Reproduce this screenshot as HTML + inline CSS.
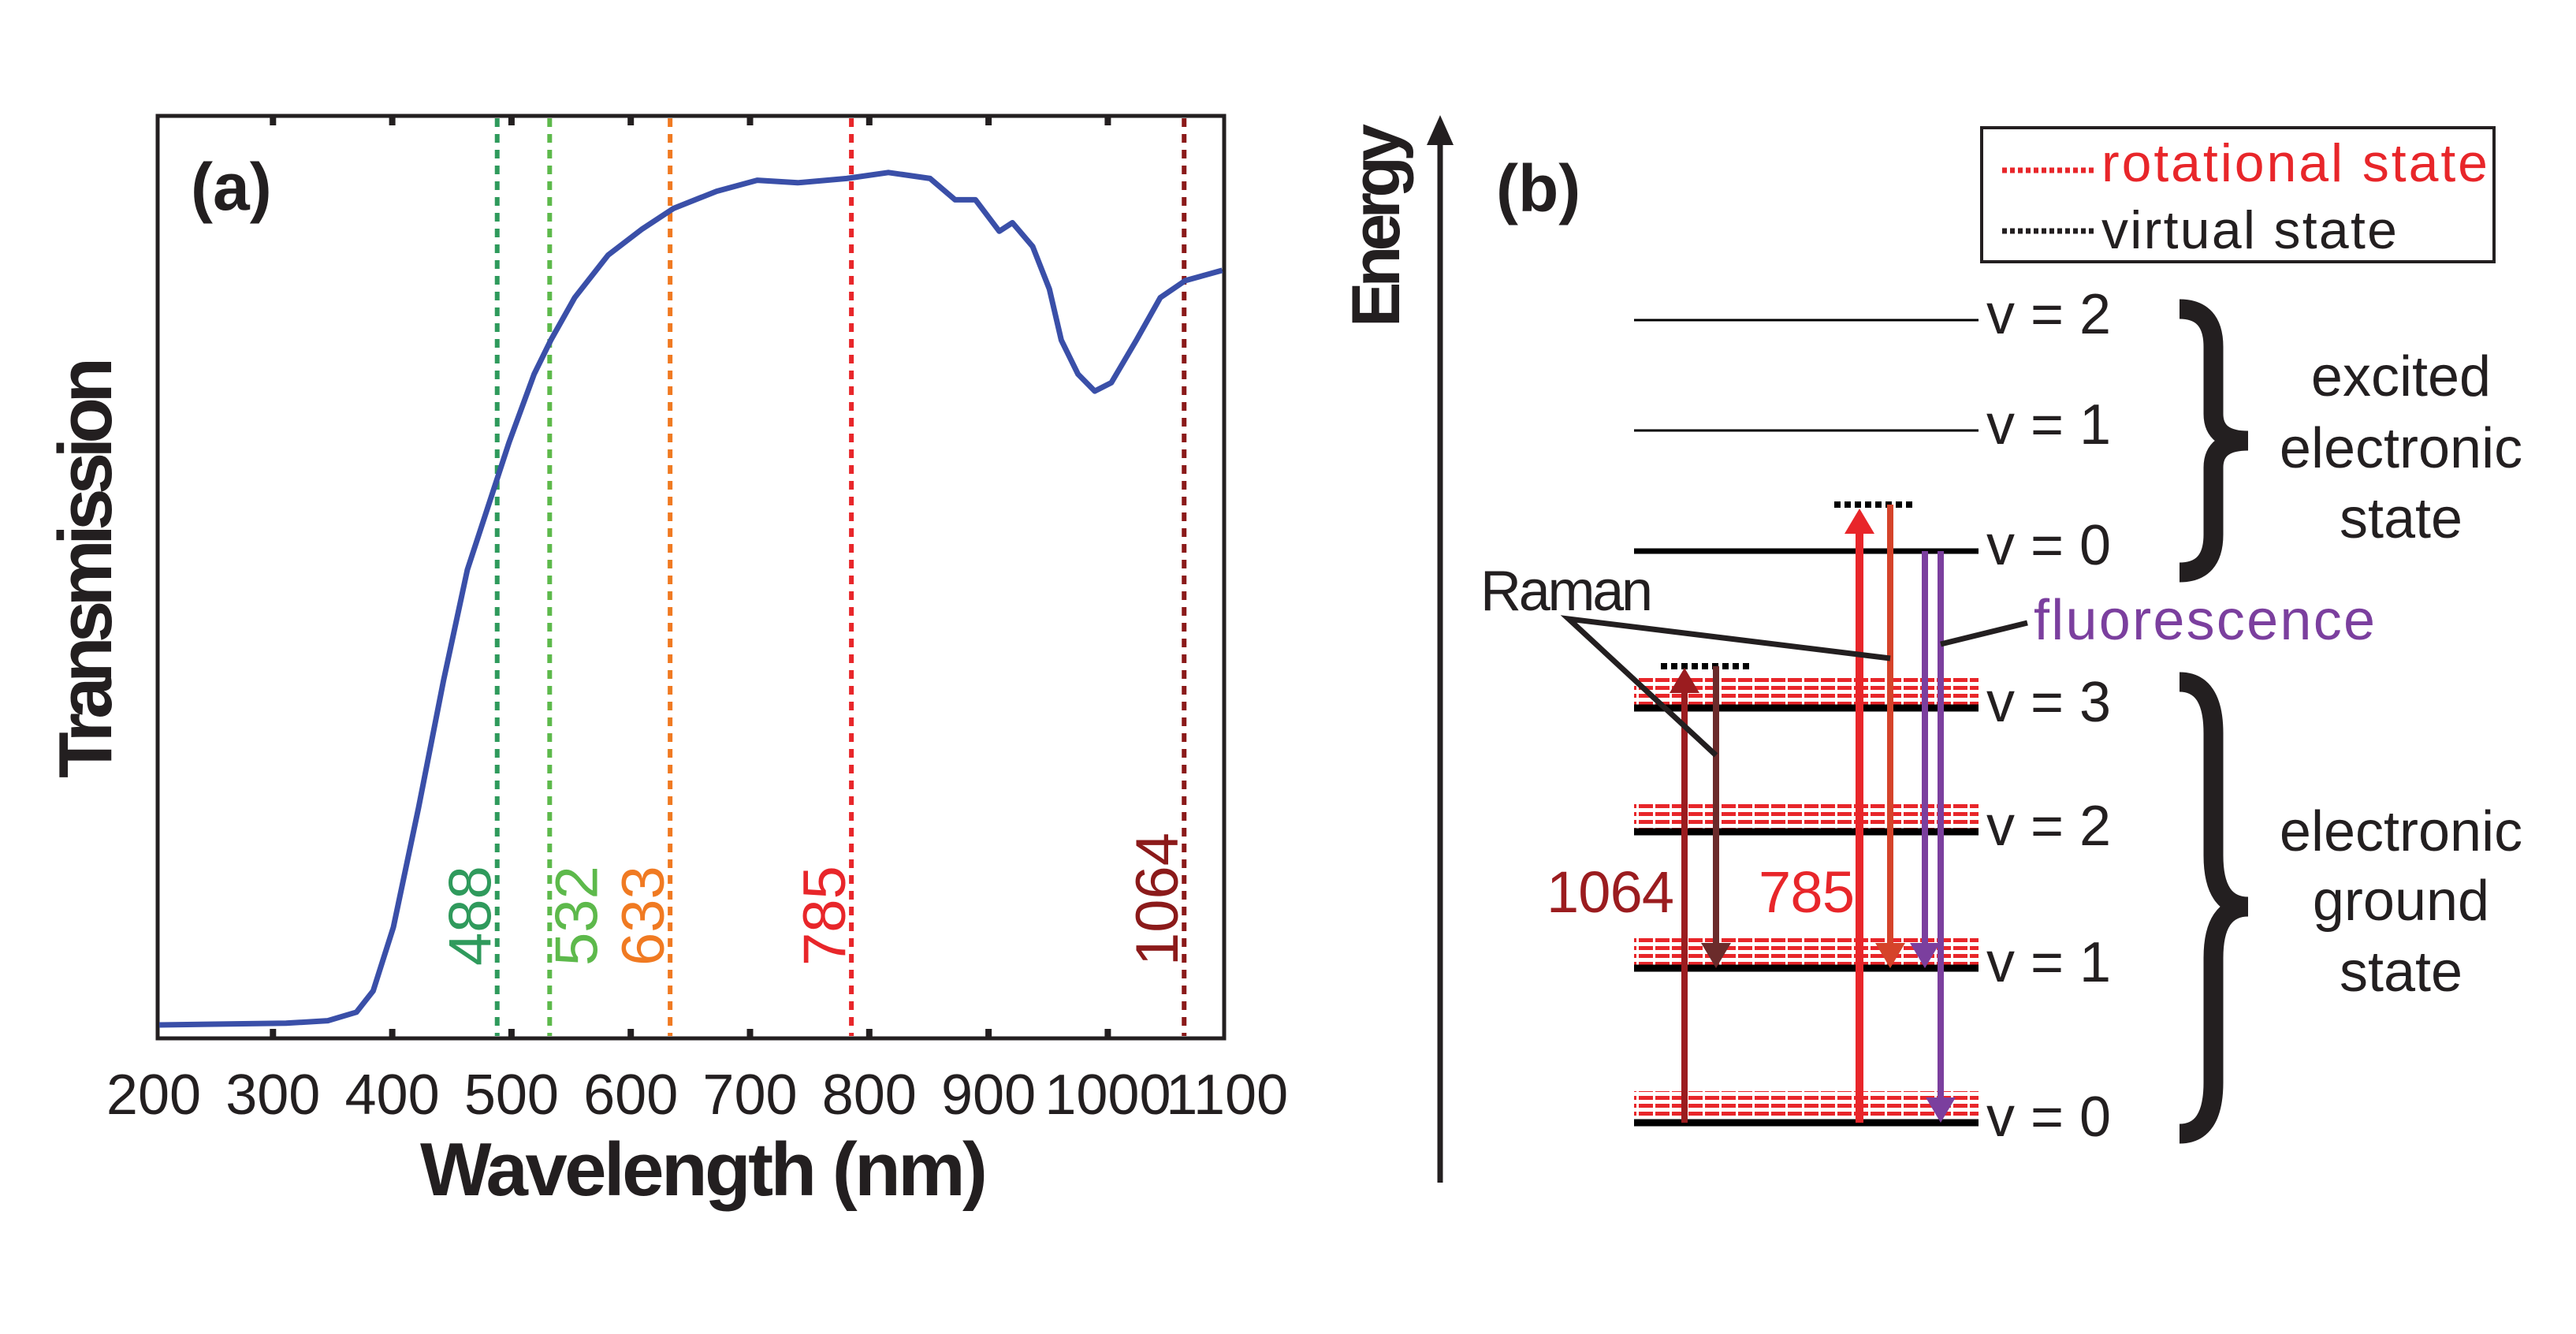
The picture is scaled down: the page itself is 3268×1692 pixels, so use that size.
<!DOCTYPE html>
<html><head><meta charset="utf-8"><style>
html,body{margin:0;padding:0;background:#fff}
svg{display:block}
text{font-family:"Liberation Sans",sans-serif;fill:#231f20}
</style></head><body>
<svg id="fig" width="3268" height="1692" viewBox="0 0 3268 1692" xmlns="http://www.w3.org/2000/svg">
<defs>
<pattern id="rot" patternUnits="userSpaceOnUse" width="21" height="10">
<rect x="0" y="0" width="18" height="5" fill="#e8262a"/>
</pattern>
</defs>
<g id="panelA">
<rect x="200" y="147" width="1353" height="1170" fill="none" stroke="#231f20" stroke-width="5"/>
<g id="ticks"></g>
<g id="laserLines"></g>
<path id="curve" fill="none" stroke="#3a4fa8" stroke-width="7" stroke-linejoin="round"/>
<text x="242" y="266" font-size="84" font-weight="bold">(a)</text>
<text transform="translate(141,720) rotate(-90)" text-anchor="middle" font-size="96" font-weight="bold" textLength="534">Transmission</text>
<text x="893" y="1516" text-anchor="middle" font-size="96" font-weight="bold" textLength="720">Wavelength (nm)</text>
</g>
<g id="panelB">
<line x1="1827" y1="1500" x2="1827" y2="180" stroke="#231f20" stroke-width="7"/>
<polygon points="1827,146 1810,184 1844,184" fill="#231f20"/>
<text transform="translate(1775,286) rotate(-90)" text-anchor="middle" font-size="86" font-weight="bold" textLength="258">Energy</text>
<text x="1898" y="268" font-size="84" font-weight="bold">(b)</text>
<g>
<rect x="2514" y="162" width="650" height="170" fill="none" stroke="#231f20" stroke-width="4"/>
<line x1="2540" y1="216" x2="2660" y2="216" stroke="#e8262a" stroke-width="7" stroke-dasharray="6,4"/>
<text x="2666" y="230" font-size="68" style="fill:#e8262a" textLength="490">rotational state</text>
<line x1="2540" y1="293" x2="2660" y2="293" stroke="#231f20" stroke-width="7" stroke-dasharray="6,4"/>
<text x="2666" y="315" font-size="68" textLength="375">virtual state</text>
</g>
<g id="levels"></g>
<g id="arrows"></g>
<g>
<text x="1878" y="774" font-size="72" textLength="219">Raman</text>
<polyline points="2398,835 1990,785 2177,958" fill="none" stroke="#231f20" stroke-width="7"/>
<text x="2580" y="811" font-size="72" style="fill:#7b3f9e" textLength="433">fluorescence</text>
<line x1="2462" y1="817" x2="2572" y2="790" stroke="#231f20" stroke-width="7"/>
<text x="1962" y="1157" font-size="74" style="fill:#9b1c1f" textLength="162">1064</text>
<text x="2231" y="1157" font-size="74" style="fill:#e8262a" textLength="122">785</text>
</g>
<path d="M2765,392 Q2808,392 2808,440 L2808,525 Q2808,559 2852,559 Q2808,559 2808,593 L2808,678 Q2808,726 2765,726" fill="none" stroke="#231f20" stroke-width="25"/>
<path d="M2765,865 Q2808,865 2808,930 L2808,1085 Q2808,1150 2852,1150 Q2808,1150 2808,1215 L2808,1373 Q2808,1438 2765,1438" fill="none" stroke="#231f20" stroke-width="25"/>
<g text-anchor="middle" font-size="72">
<text x="3046" y="502">excited</text>
<text x="3046" y="593">electronic</text>
<text x="3046" y="682">state</text>
<text x="3046" y="1079">electronic</text>
<text x="3046" y="1167">ground</text>
<text x="3046" y="1257">state</text>
</g>
</g>
</svg>
<script>
// ---- chart data ----
const wavelengths = [200,311,346,370,384,401,422,443,463,484,498,519,533,553,581,609,636,672,706,740,781,816,851,872,889,909,920,937,951,961,975,989,1003,1024,1044,1065,1096];
const transmission = [0,0.002,0.005,0.015,0.04,0.115,0.255,0.405,0.535,0.625,0.685,0.765,0.805,0.855,0.905,0.935,0.96,0.98,0.993,0.99,0.995,1.002,0.995,0.97,0.97,0.933,0.943,0.915,0.865,0.805,0.765,0.745,0.755,0.805,0.855,0.875,0.887];
const tickValues = [200,300,400,500,600,700,800,900,1000,1100];
const laserNm = [488,532,633,785,1064];
const laserLabels = ["488","532","633","785","1064"];
const laserColors = ["#2f9a5c","#5db94b","#f07a22","#e8262a","#8b1a1a"];
const groundLevels = ["v = 0","v = 1","v = 2","v = 3"];
const excitedLevels = ["v = 0","v = 1","v = 2"];

const NS = "http://www.w3.org/2000/svg";
function xs(nm){ return 195 + (nm-200)*1.513; }
function ys(t){ return 1300 - t*1079; }
function mk(tag, attrs, parent){ const e=document.createElementNS(NS,tag); for(const k in attrs) e.setAttribute(k,attrs[k]); parent.appendChild(e); return e; }

let d = "";
wavelengths.forEach((w,i)=>{ d += (i?"L":"M") + Math.max(xs(w),202).toFixed(1) + "," + ys(transmission[i]).toFixed(1) + " "; });
document.getElementById("curve").setAttribute("d", d);

const tg = document.getElementById("ticks");
tickValues.forEach(v=>{
  const x = xs(v);
  if (x > 205 && x < 1550) {
    const t1 = mk("line",{x1:x,y1:1317,x2:x,y2:1305,stroke:"#231f20","stroke-width":8},tg);
    
    
    const t2 = mk("line",{x1:x,y1:147,x2:x,y2:159,stroke:"#231f20","stroke-width":8},tg);
    
    
  }
  const lb = mk("text",{x:x,y:1413,"text-anchor":"middle","font-size":72},tg);
  lb.textContent = String(v);
  
  
});

const lg = document.getElementById("laserLines");
laserNm.forEach((nm,i)=>{
  const x = xs(nm);
  const ln = mk("line",{x1:x,y1:150,x2:x,y2:1314,stroke:laserColors[i],"stroke-width":6,"stroke-dasharray":"11,9"},lg);
  
  
  const off = (laserLabels[i]==="532") ? 34 : -34;
  const tx = x + off + 26;
  const t = mk("text",{transform:"translate("+tx+",1225) rotate(-90)","font-size":76,style:"fill:"+laserColors[i]},lg);
  t.textContent = laserLabels[i];
  
  
});

const lv = document.getElementById("levels");
const gY = [1424,1228,1055,898];
groundLevels.forEach((lab,i)=>{
  const y = gY[i];
  const band = mk("rect",{x:2073,y:y-40,width:437,height:38,fill:"url(#rot)"},lv);
  
  
  const l = mk("line",{x1:2073,y1:y,x2:2510,y2:y,stroke:"#000","stroke-width":9},lv);
  
  
  const t = mk("text",{x:2520,y:y+17,"font-size":72},lv);
  t.textContent = lab;
  
  
});
const eY = [699,546,406];
const eW = [7,3,3];
excitedLevels.forEach((lab,i)=>{
  const y = eY[i];
  const l = mk("line",{x1:2073,y1:y,x2:2510,y2:y,stroke:"#000","stroke-width":eW[i]},lv);
  
  
  const t = mk("text",{x:2520,y:y+17,"font-size":72},lv);
  t.textContent = lab;
  
  
});

const vs1 = mk("line",{x1:2107,y1:845,x2:2223,y2:845,stroke:"#000","stroke-width":8,"stroke-dasharray":"8,5"},lv);


const vs2 = mk("line",{x1:2327,y1:640,x2:2431,y2:640,stroke:"#000","stroke-width":8,"stroke-dasharray":"8,5"},lv);



const ag = document.getElementById("arrows");
function arrow(x,y0,y1,col,w,name){
  const up = y1 < y0, h = 32, hw = 19;
  const yb = up ? y1+h : y1-h;
  const l = mk("line",{x1:x,y1:y0,x2:x,y2:yb,stroke:col,"stroke-width":w},ag);
  
  
  const p = mk("polygon",{points:x+","+y1+" "+(x-hw)+","+yb+" "+(x+hw)+","+yb,fill:col},ag);
  
  
}
arrow(2137,1424,847,"#9b1c1f",8,"excitation-1064");
arrow(2177,845,1228,"#6b2b2b",8,"raman-1064");
arrow(2359,1424,645,"#e8262a",10,"excitation-785");
arrow(2398,640,1228,"#d5432a",8,"raman-785");
arrow(2442,699,1228,"#7b3f9e",8,"fluorescence-to-v1");
arrow(2462,699,1424,"#7b3f9e",8,"fluorescence-to-v0");
</script>
</body></html>
